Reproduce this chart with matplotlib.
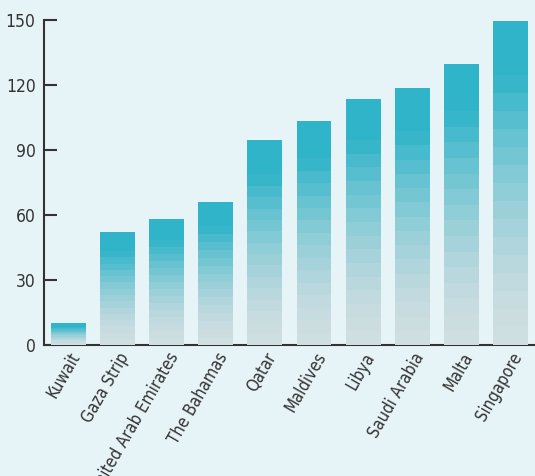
import numpy as np
import matplotlib.pyplot as plt
from matplotlib.colors import to_rgb

countries = ["Kuwait", "Gaza Strip", "United Arab Emirates", "The Bahamas", "Qatar",
             "Maldives", "Libya", "Saudi Arabia", "Malta", "Singapore"]
values = [10, 52, 58, 66, 94.5, 103.5, 113.5, 118.5, 129.5, 149.5]
yticks = [0, 30, 60, 90, 120, 150]

plt.rcParams['font.family'] = ['DejaVu Sans']
plt.rcParams['font.stretch'] = 'condensed'

top_col = np.array(to_rgb("#30b4c9"))
bot_col = np.array(to_rgb("#d0dee1"))
n_bands = 18

fig = plt.figure(figsize=(5.35, 4.76), dpi=100)
fig.patch.set_facecolor("#e7f4f7")
ax = fig.add_axes([0.082, 0.275, 0.918, 0.683])
ax.set_facecolor("none")

x = np.arange(len(countries))
for xi, v in zip(x, values):
    step = v / n_bands
    for k in range(n_bands):
        t = (k + 0.5) / n_bands
        w = min(1.0, t ** 1.6 * 1.35)
        col = bot_col * (1 - w) + top_col * w
        ax.bar(xi, step, bottom=k * step, width=0.71, color=col, linewidth=0, zorder=2)

ax.set_xlim(-0.5, 9.5)
ax.set_ylim(0, 150)
ax.set_yticks(yticks)
ax.set_xticks(x)
ax.set_xticklabels(countries, rotation=60, ha='right', rotation_mode='anchor')

for s in ['top', 'right']:
    ax.spines[s].set_visible(False)
for s in ['left', 'bottom']:
    ax.spines[s].set_color("#333333")
    ax.spines[s].set_linewidth(1.5)
ax.spines['bottom'].set_zorder(1)

ax.tick_params(axis='y', direction='in', length=9, width=1.5, color="#333333",
               labelsize=12.5, labelcolor="#333333", pad=6)
ax.tick_params(axis='x', length=0, labelsize=12, labelcolor="#333333", pad=3)

fig.savefig("out.png", dpi=100, facecolor=fig.get_facecolor())
